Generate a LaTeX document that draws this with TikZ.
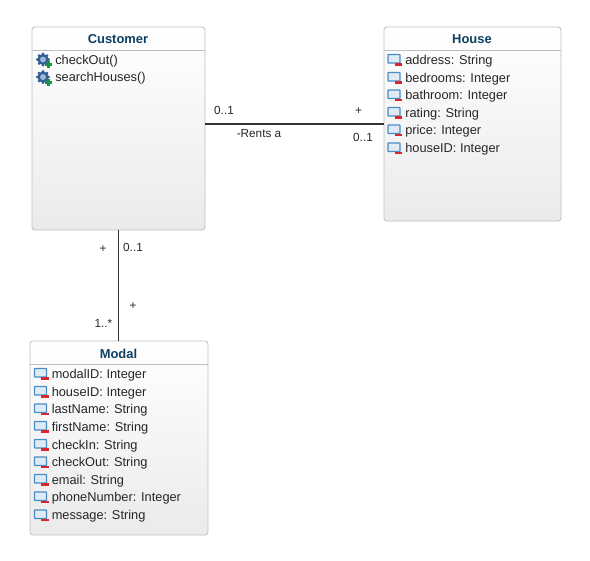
\documentclass[tikz,border=0pt]{standalone}
\usepackage{fontspec}
\setmainfont{Liberation Sans}
\definecolor{titleblue}{HTML}{0F3F63}
\definecolor{boxedge}{HTML}{BDBFC0}
\definecolor{txt}{HTML}{262626}
\definecolor{iconblue}{HTML}{4A8CC4}
\definecolor{gearblue}{HTML}{2F5F96}
\definecolor{plusgreen}{HTML}{17934A}
\definecolor{minusred}{HTML}{D8262C}
\tikzset{
  x=0.75pt,y=-0.75pt,
  classbox/.style={draw=boxedge,line width=0.6pt,rounded corners=2.2pt,top color=white,bottom color=white!92!black,inner sep=0pt,outer sep=0pt},
  headrule/.style={draw=boxedge,line width=0.6pt},
  classtitle/.style={font=\bfseries\fontsize{9.7}{11}\selectfont,text=titleblue,anchor=center,inner sep=0pt},
  rowtext/.style={font=\fontsize{9.6}{11}\selectfont,text=txt,anchor=base west,inner sep=0pt},
  lbl/.style={font=\fontsize{8.8}{10}\selectfont,text=txt,anchor=center,inner sep=0pt},
  assoc/.style={draw=black!80,line width=0.95pt},
  pics/attricon/.style={code={
    \draw[draw=iconblue,fill=iconblue!18,line width=0.9pt,rounded corners=0.4pt] (-6.5,-5) rectangle (5.5,3.5);
    \fill[minusred] (0,3.5) rectangle (7.5,6);
  }},
  pics/opicon/.style={code={
    \fill[gearblue] (0,-1) circle (5.6);
    \foreach \a in {0,45,...,315}{\fill[gearblue] ([shift={(0,-1)}]\a:5.6) circle (1.5);}
    \fill[white!55!gearblue] (0,-1) circle (3);
    \fill[plusgreen] (1.5,2.5) rectangle (8.5,5.5);
    \fill[plusgreen] (3.5,0.5) rectangle (6.5,7.5);
  }},
}
\begin{document}
\begin{tikzpicture}
\useasboundingbox (0,0) rectangle (590,561);
% class boxes (sizes given in pt: pixels x 0.75)
\node[classbox,minimum width=129.75pt,minimum height=152.25pt] (customer) at (118.5,128.5) {};
\node[classbox,minimum width=132.75pt,minimum height=145.5pt] (house) at (472.5,124) {};
\node[classbox,minimum width=133.5pt,minimum height=145.5pt] (modal) at (119,438) {};
% header rules
\coordinate (chead) at (118.5,50);
\coordinate (hhead) at (472.5,50);
\coordinate (mhead) at (119,364);
\draw[headrule] (customer.west |- chead) -- (customer.east |- chead);
\draw[headrule] (house.west |- hhead) -- (house.east |- hhead);
\draw[headrule] (modal.west |- mhead) -- (modal.east |- mhead);
% titles
\node[classtitle] (ctitle) at (118,39.5) {Customer};
\node[classtitle] (htitle) at (472,39.5) {House};
\node[classtitle] (mtitle) at (118.5,353.5) {Modal};
% Customer operations
\pic at (43,60.5) {opicon};
\node[rowtext] (c1) at (55,64.3) {checkOut()};
\pic at (43,78) {opicon};
\node[rowtext] (c2) at (55,81.8) {searchHouses()};
% House attributes
\foreach \i/\t/\y in {1/address: String/59.5,2/bedrooms: Integer/77.5,3/bathroom: Integer/95,4/rating: String/112.5,5/price: Integer/130,6/houseID: Integer/148}{
  \pic at (394.5,\y) {attricon};
  \node[rowtext] (h\i) at (405,\y+4.5) {\t};
}
% Modal attributes
\foreach \i/\t/\y in {1/modalID: Integer/373.5,2/houseID: Integer/391.5,3/lastName: String/409,4/firstName: String/426.5,5/checkIn: String/444.5,6/checkOut: String/462,7/email: String/479.5,8/phoneNumber: Integer/497,9/message: String/515}{
  \pic at (41,\y) {attricon};
  \node[rowtext] (m\i) at (51.5,\y+4.5) {\t};
}
% connectors
\draw[assoc] (customer.east |- house.west) -- (house.west);
\draw[assoc] (customer.south) -- (customer.south |- modal.north);
% labels
\node[lbl] (l1) at (224,110.5) {0..1};
\node[lbl] (l2) at (358.5,111) {+};
\node[lbl] (l3) at (259,133.5) {-Rents a};
\node[lbl] (l4) at (363,137) {0..1};
\node[lbl] (l5) at (103,249) {+};
\node[lbl] (l6) at (133,247) {0..1};
\node[lbl] (l7) at (133,306) {+};
\node[lbl] (l8) at (103.5,323) {1..*};
\end{tikzpicture}
\end{document}
